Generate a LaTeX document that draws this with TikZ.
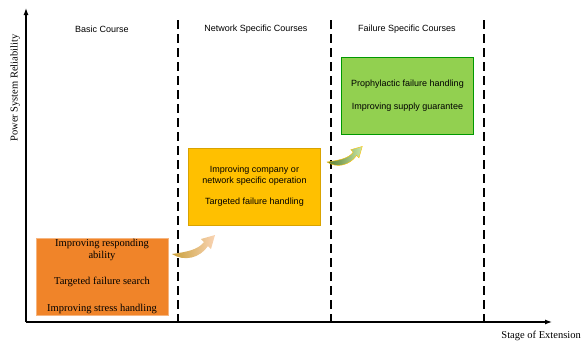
\documentclass[tikz,border=0pt]{standalone}
\usepackage{fontspec}
\setmainfont{Liberation Serif}
\setsansfont{Liberation Sans}
\usetikzlibrary{arrows.meta,positioning}
\definecolor{boxorange}{HTML}{F08429}
\definecolor{boxyellow}{HTML}{FFC000}
\definecolor{boxgreen}{HTML}{92D050}
\definecolor{arrowgold}{HTML}{C9A03A}
\begin{document}
\begin{tikzpicture}[x=1pt,y=-1pt,
    axis/.style={
      line width=1.2pt,
      -{Latex[length=7pt,width=5pt]}
    },
    phase/.style={
      line width=1.2pt,
      dash pattern=on 9pt off 5pt
    },
    course/.style={
      font=\sffamily\fontsize{9}{11}\selectfont,
      align=center
    },
    block/.style={
      draw,
      shape=rectangle,
      align=center,
      minimum width=132pt,
      minimum height=77pt,
      inner sep=0pt,
      line width=0.8pt
    }
    ]
    \useasboundingbox (0,0) rectangle (582,343);
    % axes
    \coordinate (O) at (26,322);
    \coordinate (Y) at (26,8);
    \coordinate (X) at (552,322);
    \draw[axis] (O) -- (Y);
    \draw[axis] (O) -- (X);
    \node[rotate=90,font=\fontsize{10.5}{12}\selectfont] (ylab) at (15,88) {Power System Reliability};
    \node[anchor=east,font=\fontsize{10.5}{12}\selectfont,inner sep=1pt] (xlab) at (582,336) {Stage of Extension};
    % phases
    \draw[phase] (178,20) -- (178,322);
    \draw[phase] (331,20) -- (331,322);
    \draw[phase] (484,20) -- (484,322);
    \node[course] (c1) at (102,29) {Basic Course};
    \node[course] (c2) at (256,29) {Network Specific Courses};
    \node[course] (c3) at (407,29) {Failure Specific Courses};
    % boxes
    \node[block,fill=boxorange,draw=boxorange!60!white,
      font=\fontsize{10.5}{12}\selectfont] (A) at (102,276.5)
      {Improving responding\\ability\\[14pt]Targeted failure search\\[15pt]Improving stress handling};
    \node[block,fill=boxyellow,draw=boxyellow!85!black,
      font=\sffamily\fontsize{9}{11}\selectfont] (B) at (254.5,186.5)
      {Improving company or\\network specific operation\\[10pt]Targeted failure handling};
    \node[block,fill=boxgreen,draw=green!60!black,
      font=\sffamily\fontsize{9}{11}\selectfont] (C) at (407.5,95.5)
      {Prophylactic failure handling\\[12pt]Improving supply guarantee};
    % bent arrows
    \coordinate (t1) at (172,254);
    \coordinate (t2) at (327,162);
    \shade[left color=arrowgold,right color=boxorange!35!white,shift={(t1)}]
      (0,0) .. controls (12,8) and (28,4) .. (36,-8) -- (39,-5) -- (43,-19)
      -- (29,-15) -- (32,-12) .. controls (26,-4) and (14,-2) .. (0,0) -- cycle;
    \shade[left color=boxgreen!60!black,right color=boxgreen!50!white,draw=boxyellow,
      line width=0.4pt,shift={(t2)},scale=0.82]
      (0,0) .. controls (12,8) and (28,4) .. (36,-8) -- (39,-5) -- (43,-19)
      -- (29,-15) -- (32,-12) .. controls (26,-4) and (14,-2) .. (0,0) -- cycle;
  \end{tikzpicture}
\end{document}
